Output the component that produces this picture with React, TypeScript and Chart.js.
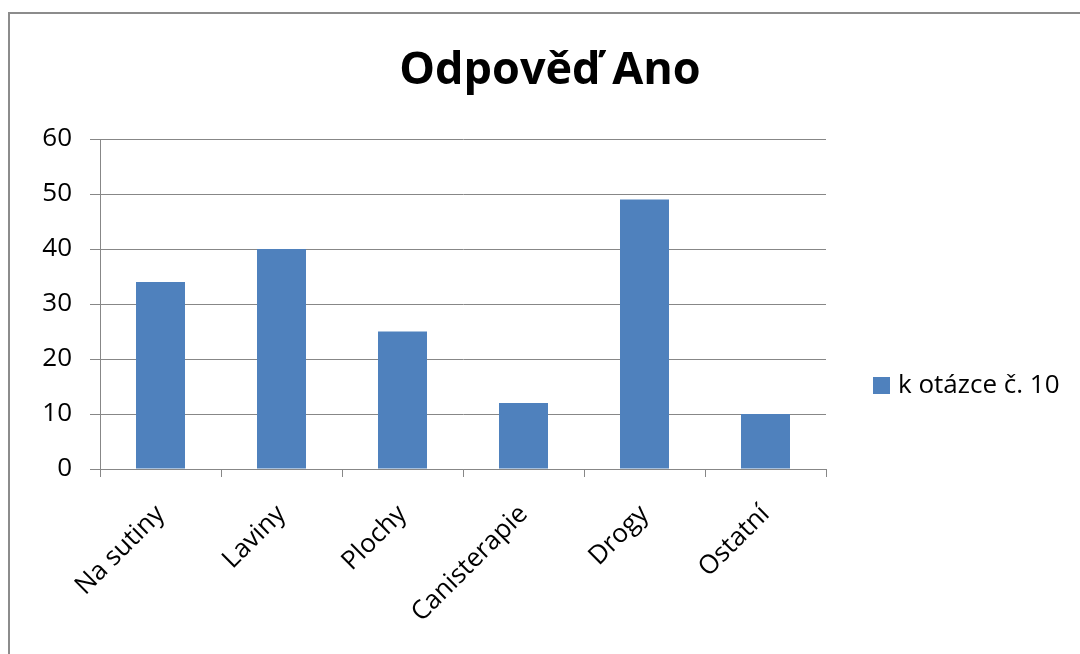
import React, { useEffect, useRef } from "react";
import { Chart, registerables } from "chart.js";

Chart.register(...registerables);

const categories = ["Na sutiny", "Laviny", "Plochy", "Canisterapie", "Drogy", "Ostatní"];
const values = [34, 40, 25, 12, 49, 10];
const seriesLabel = "k otázce č. 10";
const chartTitle = "Odpověď Ano";
const yMin = 0;
const yMax = 60;
const yStep = 10;

const FONT = "'Open Sans', Lato, sans-serif";
const GRID = "#878787";
const BAR = "#4f81bd";

const sideLegend = {
  id: "sideLegend",
  afterDraw(chart: any) {
    const ctx = chart.ctx;
    const ds = chart.data.datasets[0];
    const x = chart.chartArea.right + 47;
    const cy = 385;
    ctx.save();
    ctx.fillStyle = ds.backgroundColor;
    ctx.fillRect(x, cy - 8, 17, 17);
    ctx.fillStyle = "#000";
    ctx.font = `26px ${FONT}`;
    ctx.textBaseline = "middle";
    ctx.textAlign = "left";
    ctx.fillText(ds.label, x + 25, cy + 1);
    ctx.restore();
  },
};

export default function App() {
  const ref = useRef<HTMLCanvasElement | null>(null);
  useEffect(() => {
    if (!ref.current) return;
    const chart = new Chart(ref.current, {
      type: "bar",
      data: {
        labels: categories,
        datasets: [
          {
            label: seriesLabel,
            data: values,
            backgroundColor: BAR,
            borderWidth: 0,
            barPercentage: 0.405,
            categoryPercentage: 1,
          },
        ],
      },
      plugins: [sideLegend],
      options: {
        responsive: false,
        animation: false,
        devicePixelRatio: 1,
        layout: { padding: { left: 20, right: 0, top: 0, bottom: 0 } },
        plugins: {
          legend: { display: false },
          tooltip: { enabled: false },
          title: {
            display: true,
            text: chartTitle,
            color: "#000",
            font: { family: FONT, size: 45, weight: "bold", lineHeight: 1.2 },
            padding: { top: 44, bottom: 41 },
          },
        },
        scales: {
          x: {
            grid: {
              display: true,
              drawOnChartArea: false,
              drawTicks: true,
              tickLength: 8,
              color: GRID,
              offset: true,
            },
            border: { display: true, color: GRID, width: 1 },
            ticks: {
              color: "#000",
              font: { family: FONT, size: 26 },
              minRotation: 45,
              maxRotation: 45,
              autoSkip: false,
              padding: 22,
            },
            afterFit(scale: any) {
              scale.height = 185;
            },
          },
          y: {
            min: yMin,
            max: yMax,
            grid: { color: GRID, tickLength: 10, drawTicks: true },
            border: { display: true, color: GRID, width: 1 },
            ticks: {
              stepSize: yStep,
              color: "#000",
              font: { family: FONT, size: 26 },
              padding: 18,
            },
            afterFit(scale: any) {
              scale.width = 80;
            },
          },
          yr: {
            type: "linear",
            position: "right",
            display: true,
            grid: { display: false },
            border: { display: false },
            ticks: { display: false },
            afterFit(scale: any) {
              scale.width = 254;
            },
          },
        },
      },
    } as any);
    return () => chart.destroy();
  }, []);

  return (
    <div
      style={{
        position: "fixed",
        left: 0,
        top: 0,
        width: 1080,
        height: 654,
        background: "#fff",
        overflow: "hidden",
      }}
    >
      <div
        style={{
          position: "absolute",
          left: 8,
          top: 12,
          width: 1200,
          height: 800,
          borderLeft: "2px solid #8c8c8c",
          borderTop: "2px solid #8c8c8c",
        }}
      />
      <canvas
        ref={ref}
        width={1080}
        height={654}
        style={{ position: "absolute", left: 0, top: 0, width: 1080, height: 654 }}
      />
    </div>
  );
}
